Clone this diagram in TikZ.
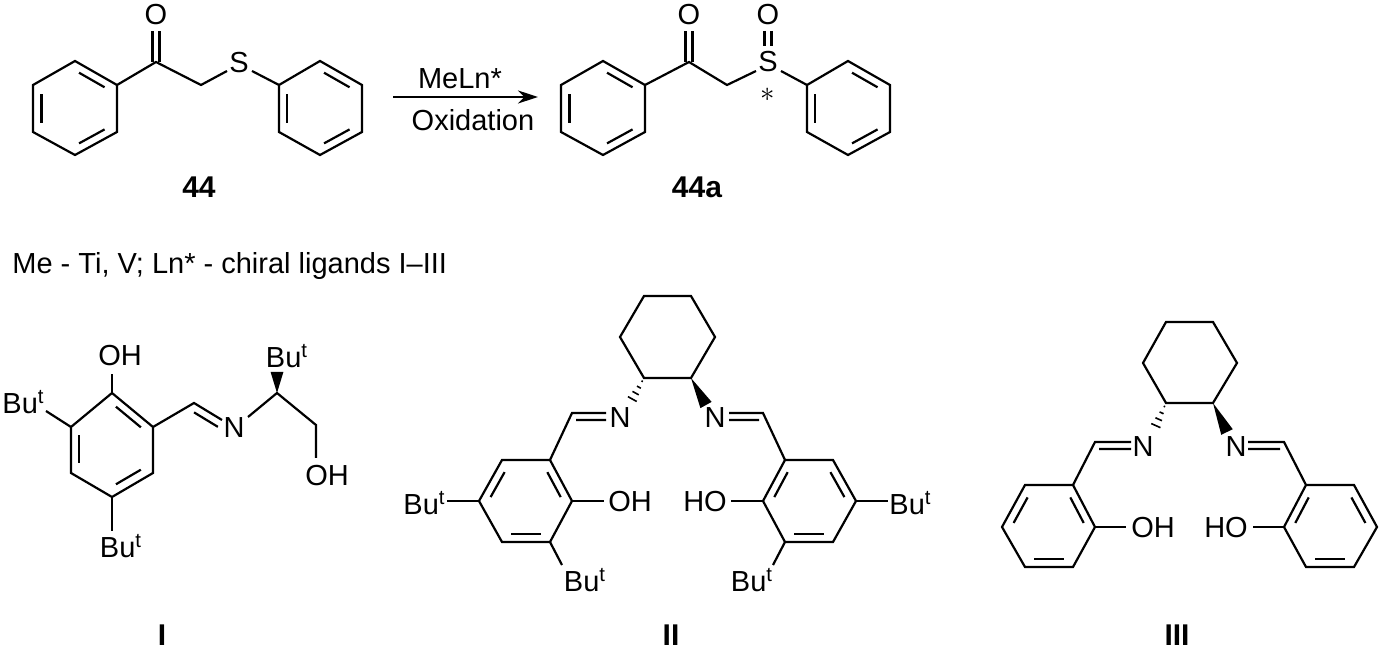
\documentclass[tikz,border=0pt]{standalone}
\usepackage{fontspec}
\setmainfont{Liberation Sans}
\usetikzlibrary{calc,arrows.meta}
\newcommand{\hexring}[7]{% 6 vertices + center
  \draw[bond] (#1)--(#2)--(#3)--(#4)--(#5)--(#6)--cycle;}
\newcommand{\inb}[3]{% inner double bond edge A B, center C
  \draw[bond] ($($(#1)!.2!(#3)$)!.12!($(#2)!.2!(#3)$)$) -- ($($(#2)!.2!(#3)$)!.12!($(#1)!.2!(#3)$)$);}
\newcommand{\hashb}[2]{%
  \foreach \t in {0.12,0.34,0.56,0.78,1.0}{%
    \pgfmathsetmacro\w{3.2*\t}%
    \coordinate (hp) at ($(#1)!\t!(#2)$);
    \draw[line width=0.8pt] ($(hp)!\w pt!90:(#2)$) -- ($(hp)!\w pt!-90:(#2)$);}}
\newcommand{\wedgeb}[2]{\fill (#1) -- ($(#2)!3.2pt!90:(#1)$) -- ($(#2)!3.2pt!-90:(#1)$) -- cycle;}
\begin{document}
\begin{tikzpicture}[x=0.5pt,y=-0.5pt,
  bond/.style={line width=1.1pt},
  txt/.style={inner sep=0pt,font=\fontsize{14.5}{16}\selectfont},
  lab/.style={inner sep=0pt,font=\fontsize{15}{17}\selectfont\bfseries}]
\useasboundingbox (0,0) rectangle (1381,651);
% ---------- 44 ----------
\coordinate (aT) at (75,61); \coordinate (aUR) at (117,85); \coordinate (aLR) at (117,132);
\coordinate (aB) at (75,155); \coordinate (aLL) at (33,132); \coordinate (aUL) at (33,85); \coordinate (aC) at (75,108);
\hexring{aT}{aUR}{aLR}{aB}{aLL}{aUL}{aC}
\inb{aT}{aUR}{aC}\inb{aLR}{aB}{aC}\inb{aLL}{aUL}{aC}
\coordinate (bT) at (320,61); \coordinate (bUR) at (362,85); \coordinate (bLR) at (362,132);
\coordinate (bB) at (320,155); \coordinate (bLL) at (279,132); \coordinate (bUL) at (279,85); \coordinate (bC) at (320,108);
\hexring{bT}{bUR}{bLR}{bB}{bLL}{bUL}{bC}
\inb{bT}{bUR}{bC}\inb{bLR}{bB}{bC}\inb{bLL}{bUL}{bC}
\coordinate (co) at (156,62); \coordinate (ch) at (201,85);
\node[txt] (O1) at (156,15) {O};
\node[txt] (S1) at (239,63) {S};
\draw[bond] (aUR)--(co)--(ch)--(227,71);
\draw[bond] (252,71)--(bUL);
\draw[bond] (152.5,62)--(152.5,31) (159.5,62)--(159.5,31);
\node[lab] (n44) at (199,187) {44};
% ---------- arrow ----------
\coordinate (ar1) at (393,97); \coordinate (ar2) at (538,97);
\draw[bond,-{Stealth[length=10pt,width=6.5pt]}] (ar1)--(ar2);
\node[txt] (r1) at (460,79) {MeLn*};
\node[txt] (r2) at (473,120) {Oxidation};
% ---------- 44a ----------
\coordinate (cT) at (603,61); \coordinate (cUR) at (645,85); \coordinate (cLR) at (645,132);
\coordinate (cB) at (603,155); \coordinate (cLL) at (561,132); \coordinate (cUL) at (561,85); \coordinate (cC) at (603,108);
\hexring{cT}{cUR}{cLR}{cB}{cLL}{cUL}{cC}
\inb{cT}{cUR}{cC}\inb{cLR}{cB}{cC}\inb{cLL}{cUL}{cC}
\coordinate (dT) at (848,61); \coordinate (dUR) at (890,85); \coordinate (dLR) at (890,132);
\coordinate (dB) at (848,155); \coordinate (dLL) at (807,132); \coordinate (dUL) at (807,85); \coordinate (dC) at (848,108);
\hexring{dT}{dUR}{dLR}{dB}{dLL}{dUL}{dC}
\inb{dT}{dUR}{dC}\inb{dLR}{dB}{dC}\inb{dLL}{dUL}{dC}
\coordinate (co2) at (689,62); \coordinate (ch2) at (727,85);
\node[txt] (O2) at (689,15) {O};
\node[txt] (S2) at (768,62) {S};
\node[txt] (O3) at (768,15) {O};
\node[inner sep=0pt,font=\fontsize{15}{15}\selectfont] (st) at (768,95) {$\ast$};
\draw[bond] (cUR)--(co2)--(ch2)--(756,71);
\draw[bond] (781,71)--(dUL);
\draw[bond] (685.5,62)--(685.5,31) (692.5,62)--(692.5,31);
\draw[bond] (764.5,31)--(764.5,46) (771.5,31)--(771.5,46);
\node[lab] (n44a) at (697,187) {44a};
% ---------- text ----------
\node[txt,anchor=west] (mt) at (12,266) {Me - Ti, V; Ln* - chiral ligands I–III};
% ---------- I ----------
\coordinate (eT) at (112,393); \coordinate (eUR) at (153,427); \coordinate (eLR) at (153,473);
\coordinate (eB) at (112,497); \coordinate (eLL) at (71,473); \coordinate (eUL) at (71,427); \coordinate (eC) at (112,445);
\hexring{eT}{eUR}{eLR}{eB}{eLL}{eUL}{eC}
\inb{eT}{eUR}{eC}\inb{eLR}{eB}{eC}\inb{eLL}{eUL}{eC}
\node[txt] (OH1) at (120,356) {OH};
\draw[bond] (eT)--(112,374);
\node[txt,anchor=east] (Bu1) at (45,402) {Bu\textsuperscript{t}};
\draw[bond] (eUL)--(46,411);
\node[txt] (Bu2) at (121,546) {Bu\textsuperscript{t}};
\draw[bond] (eB)--(112,531);
\coordinate (ech) at (194,403);
\draw[bond] (eUR)--(ech)--(222,420);
\draw[bond] ($(ech)!.15!(222,420)!4pt!-90:(222,420)$) -- ($(222,420)!4pt!90:(ech)$);
\node[txt] (N1) at (234,428) {N};
\coordinate (cs) at (277,393);
\draw[bond] (248,417)--(cs)--(316,425)--(316,458);
\wedgeb{cs}{277,372}
\node[txt] (Bu3) at (287,356) {Bu\textsuperscript{t}};
\node[txt] (OH2) at (327,476) {OH};
\node[lab] (nI) at (162,635) {I};
% ---------- II ----------
\coordinate (fTL) at (644,296); \coordinate (fTR) at (691,296); \coordinate (fR) at (715,337);
\coordinate (fBR) at (691,378); \coordinate (fBL) at (644,378); \coordinate (fL) at (620,337);
\draw[bond] (fTL)--(fTR)--(fR)--(fBR)--(fBL)--(fL)--cycle;
\hashb{fBL}{629,405}
\wedgeb{fBR}{706,405}
\foreach \s/\sg in {0/1,1335/-1}{
 \begin{scope}[shift={(\s,0)},xscale=\sg]
 \coordinate (gTR) at (550,460); \coordinate (gTL) at (502,460); \coordinate (gL) at (479,501);
 \coordinate (gBL) at (502,542); \coordinate (gBR) at (550,542); \coordinate (gR) at (572,501); \coordinate (gC) at (526,501);
 \hexring{gTR}{gTL}{gL}{gBL}{gBR}{gR}{gC}
 \inb{gTL}{gL}{gC}\inb{gTR}{gR}{gC}\inb{gBL}{gBR}{gC}
 \draw[bond] (gTR)--(572,413)--(606,413) (576,420)--(606,420);
 \draw[bond] (gL)--(447,501);
 \draw[bond] (gR)--(604,501);
 \draw[bond] (gBR)--(562,565);
 \end{scope}}
\node[txt] (N2) at (620,418) {N};
\node[txt] (N3) at (715,418) {N};
\node[txt,anchor=east] (Bu4) at (446,503) {Bu\textsuperscript{t}};
\node[txt,anchor=west] (Bu5) at (889,503) {Bu\textsuperscript{t}};
\node[txt] (OH3) at (630,502) {OH};
\node[txt] (HO3) at (705,502) {HO};
\node[txt] (Bu6) at (585,580) {Bu\textsuperscript{t}};
\node[txt] (Bu7) at (752,580) {Bu\textsuperscript{t}};
\node[lab] (nII) at (671,635) {II};
% ---------- III ----------
\coordinate (hTL) at (1166,322); \coordinate (hTR) at (1213,322); \coordinate (hR) at (1237,363);
\coordinate (hBR) at (1213,403); \coordinate (hBL) at (1166,403); \coordinate (hL) at (1143,363);
\draw[bond] (hTL)--(hTR)--(hR)--(hBR)--(hBL)--(hL)--cycle;
\hashb{hBL}{1153,432}
\wedgeb{hBR}{1227,432}
\foreach \s/\sg in {0/1,2379/-1}{
 \begin{scope}[shift={(\s,0)},xscale=\sg]
 \coordinate (kTR) at (1073,485); \coordinate (kTL) at (1025,485); \coordinate (kL) at (1002,527);
 \coordinate (kBL) at (1025,567); \coordinate (kBR) at (1073,567); \coordinate (kR) at (1095,527); \coordinate (kC) at (1049,527);
 \hexring{kTR}{kTL}{kL}{kBL}{kBR}{kR}{kC}
 \inb{kTL}{kL}{kC}\inb{kTR}{kR}{kC}\inb{kBL}{kBR}{kC}
 \draw[bond] (kTR)--(1095,442)--(1131,442) (1099,449)--(1131,449);
 \draw[bond] (kR)--(1126,527);
 \end{scope}}
\node[txt] (N4) at (1143,447) {N};
\node[txt] (N5) at (1236,447) {N};
\node[txt] (OH4) at (1153,528) {OH};
\node[txt] (HO4) at (1226,528) {HO};
\node[lab] (nIII) at (1177,635) {III};
\end{tikzpicture}
\end{document}
